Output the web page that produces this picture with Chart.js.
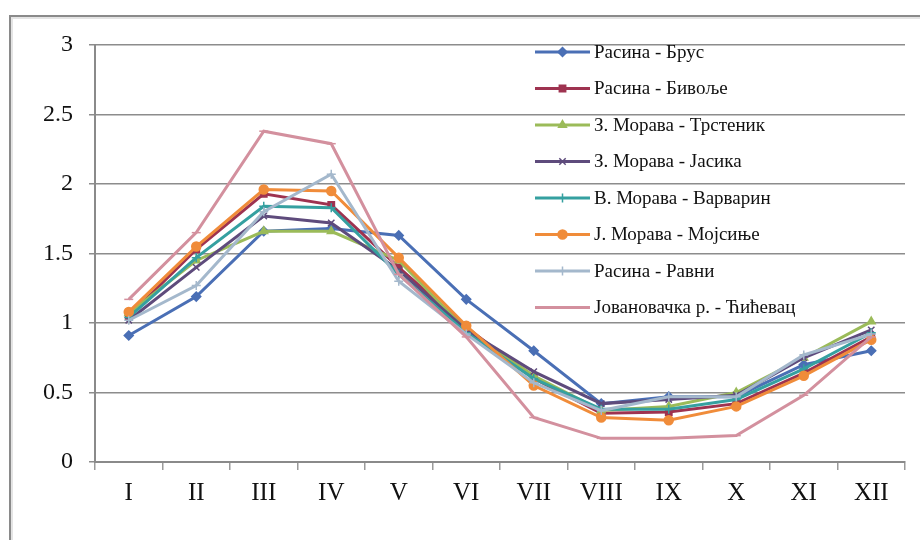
<!DOCTYPE html>
<html><head><meta charset="utf-8">
<script src="https://cdn.jsdelivr.net/npm/chart.js@4.4.1/dist/chart.umd.min.js"></script>
<style>
html,body{margin:0;padding:0;background:#fff;}
#wrap{position:relative;width:920px;height:540px;overflow:hidden;background:#fff;}
#frame{position:absolute;left:9px;top:15px;width:940px;height:560px;border-left:2px solid #8a8a8a;border-top:2px solid #8a8a8a;box-shadow:inset 2px 2px 0 #e4e4e4;}
canvas{position:absolute;left:0;top:0;}
</style></head>
<body><div id="wrap"><div id="frame"></div><canvas id="c" width="920" height="540"></canvas></div>
<script>
const months = ['I','II','III','IV','V','VI','VII','VIII','IX','X','XI','XII'];
const seriesNames = ['Расина - Брус','Расина - Бивоље','З. Морава - Трстеник','З. Морава - Јасика','В. Морава - Варварин','Ј. Морава - Мојсиње','Расина - Равни','Јовановачка р. - Ћићевац'];
const rasinaBrus      = [0.91,1.19,1.66,1.68,1.63,1.17,0.80,0.42,0.47,0.47,0.70,0.80];
const rasinaBivolje   = [1.05,1.53,1.93,1.85,1.40,0.97,0.60,0.35,0.36,0.42,0.64,0.90];
const zMoravaTrstenik = [1.07,1.45,1.66,1.66,1.45,0.95,0.62,0.37,0.40,0.50,0.75,1.01];
const zMoravaJasika   = [1.02,1.40,1.77,1.72,1.38,0.95,0.65,0.42,0.45,0.48,0.75,0.95];
const vMoravaVarvarin = [1.04,1.47,1.84,1.83,1.35,0.93,0.60,0.38,0.38,0.45,0.67,0.93];
const jMoravaMojsinje = [1.08,1.55,1.96,1.95,1.47,0.98,0.55,0.32,0.30,0.40,0.62,0.88];
const rasinaRavni     = [1.02,1.27,1.80,2.07,1.30,0.92,0.57,0.37,0.47,0.47,0.77,0.92];
const jovanovackaR    = [1.17,1.65,2.38,2.29,1.35,0.90,0.32,0.17,0.17,0.19,0.48,0.90];
const yTicks = [0,0.5,1,1.5,2,2.5,3];

const seriesValues = [rasinaBrus,rasinaBivolje,zMoravaTrstenik,zMoravaJasika,vMoravaVarvarin,jMoravaMojsinje,rasinaRavni,jovanovackaR];
const colors = ['#4a6fb5','#9e3350','#9bbb59','#5e4b7c','#35a0a0','#f08c3a','#a4b8cc','#d3909e'];
const styles = ['rectRot','rect','triangle','crossRot','cross','circle','cross','line'];

const datasets = seriesNames.map((n,i)=>({
  label:n, data:seriesValues[i], borderColor:colors[i], backgroundColor:colors[i],
  borderWidth:3, pointStyle:styles[i], pointRadius:4.5, pointBorderWidth:1.5,
  pointBackgroundColor:colors[i], pointBorderColor:colors[i], tension:0, fill:false,
  order: seriesNames.length - i
}));

const legendPlugin = {
  id:'customLegend',
  afterDraw(chart){
    const ctx = chart.ctx;
    const x0=535, x1=590, tx=594, y0=52, dy=36.5;
    chart.data.datasets.forEach((ds,i)=>{
      const y = y0 + i*dy;
      ctx.save();
      ctx.strokeStyle = ds.borderColor; ctx.fillStyle = ds.borderColor; ctx.lineWidth = 3;
      ctx.beginPath(); ctx.moveTo(x0,y); ctx.lineTo(x1,y); ctx.stroke();
      ctx.lineWidth = 1.5;
      Chart.helpers.drawPoint(ctx,{pointStyle:ds.pointStyle, radius:4.5, borderWidth:1.5, rotation:0},(x0+x1)/2,y);
      ctx.fillStyle = '#111';
      ctx.font = '19px "Liberation Serif"';
      ctx.textBaseline = 'middle'; ctx.textAlign = 'left';
      ctx.fillText(ds.label, tx, y+1);
      ctx.restore();
    });
  }
};

new Chart(document.getElementById('c'), {
  type:'line',
  data:{labels:months, datasets},
  plugins:[legendPlugin],
  options:{
    responsive:false, animation:false, devicePixelRatio:1,
    layout:{padding:{top:45,right:15,left:0,bottom:0}},
    plugins:{legend:{display:false}, tooltip:{enabled:false}},
    scales:{
      x:{
        offset:true,
        grid:{display:true, drawOnChartArea:false, drawTicks:true, tickLength:8, color:'#9a9a9a', lineWidth:1.5, offset:true},
        border:{display:true, color:'#8a8a8a', width:2},
        ticks:{color:'#111', font:{family:'"Liberation Serif"', size:25}, padding:8, maxRotation:0, autoSkip:false},
        afterFit(s){ s.height = 78; }
      },
      y:{
        min:0, max:3,
        afterBuildTicks(s){ s.ticks = yTicks.map(v=>({value:v})); },
        grid:{color:'#8c8c8c', lineWidth:1.5, tickLength:6, drawTicks:true},
        border:{display:true, color:'#8a8a8a', width:2},
        ticks:{color:'#111', font:{family:'"Liberation Serif"', size:24}, padding:16, callback:(v)=>String(v)},
        afterFit(s){ s.width = 95; }
      }
    }
  }
});
</script>
</body></html>
